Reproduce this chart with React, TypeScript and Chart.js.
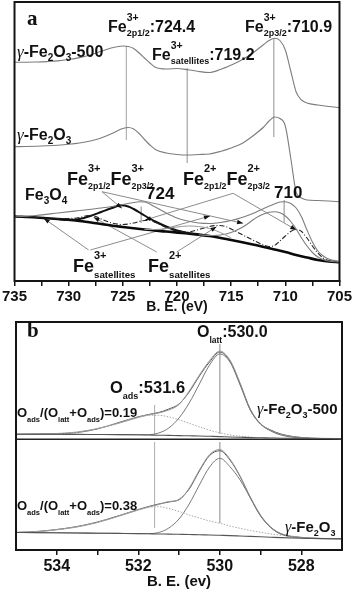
import React, { useEffect, useRef } from "react";
import { Chart, registerables } from "chart.js";
Chart.register(...registerables);

const SANS = '"Liberation Sans", Arial, sans-serif';
const SERIF = '"Liberation Serif", "Times New Roman", serif';

// ---------------- Panel a : Fe 2p ----------------
const A_TICK_LABELS = [735, 730, 725, 720, 715, 710, 705];
const A_TICKS_ALL = [735, 732.5, 730, 727.5, 725, 722.5, 720, 717.5, 715, 712.5, 710, 707.5, 705];

// gamma-Fe2O3-500 spectrum
const E_500 = [735, 734, 733, 732, 731, 730, 729, 728, 727, 726, 725, 724.5, 724, 723.5, 723, 722.5, 722, 721, 720, 719, 718, 717, 716, 715, 714, 713, 712, 711.5, 711, 710.5, 710, 709.5, 709, 708.5, 708, 707, 706, 705];
const I_500 = [237.7, 237.8, 238, 238.4, 239.1, 240.5, 242.4, 245, 248.7, 252.2, 254, 253.5, 251.5, 247, 242, 237, 232.7, 231, 231.5, 230.3, 228.5, 227.5, 230.5, 235, 240.2, 247, 255.5, 259.5, 261.7, 259.5, 250, 229, 208, 200, 197, 195, 193.5, 192.5];
// gamma-Fe2O3 spectrum
const E_FE2O3 = [735, 734, 733, 732, 731, 730, 729, 728, 727, 726, 725, 724.5, 724, 723.5, 723, 722.5, 722, 721, 720, 719, 718, 717, 716, 715, 714, 713, 712, 711.5, 711, 710.5, 710, 709.5, 709, 708.5, 708, 707, 706, 705];
const I_FE2O3 = [153.3, 153.5, 153.8, 154.2, 154.8, 155.7, 157, 159, 162, 166.5, 171.5, 172.5, 171, 166.5, 160.5, 155, 150.5, 147, 145.5, 145, 145.5, 146, 148.5, 152, 156.5, 164, 173, 179, 183, 181.5, 174, 142, 108, 102, 100, 99.5, 99, 98.3];
// Fe3O4 spectrum and fitted components
const E_FE3O4 = [735, 733, 731, 729, 727, 726, 725, 724, 723.5, 723, 722, 721, 720, 719, 718, 717, 716, 715, 714, 713, 712, 711, 710.5, 710, 709.5, 709, 708.5, 708, 707.5, 707, 706.5, 706, 705];
const I_FE3O4 = [83, 84.5, 87, 89.5, 92, 93.5, 95.5, 97.5, 98.3, 98, 93, 87, 82, 79, 77, 76.5, 77.5, 79.5, 82.5, 86.5, 91.5, 96, 98, 98.3, 96.5, 92, 83, 70, 58, 49, 44, 41, 38.5];
const E_BG_A = [735, 733, 731, 729, 727, 725, 723, 721, 719, 717, 715, 713, 711, 710, 709, 708, 707, 706, 705];
const I_BG_A = [83.5, 82.5, 81, 79, 76, 73, 70.5, 68.5, 66.5, 64, 60, 55.5, 50.5, 48, 45, 42.5, 40, 38.5, 37.7];
const E_FE3_P12 = [731, 730, 729, 728, 727, 726, 725.2, 724.5, 724, 723, 722, 721, 720, 719, 718];
const I_FE3_P12 = [81, 80, 81, 84, 88, 92, 94.7, 93.5, 91, 84.5, 78.5, 73.5, 69.5, 67, 65.2];
const E_FE3_P32 = [718, 717, 716, 715, 714, 713.5, 713, 712.5, 712, 711.5, 711, 710.5, 710, 709.5, 709, 708.5, 708, 707.5, 707, 706.5, 706, 705];
const I_FE3_P32 = [65.2, 64.5, 65, 67.5, 72.5, 76, 80, 83.5, 86, 87.7, 88.2, 87.2, 84, 78.5, 71, 62, 54, 47.5, 43, 40.5, 39, 38];
const E_FE3_SAT = [723, 722, 721, 720, 719, 718, 717, 716, 715];
const I_FE3_SAT = [70.5, 70.5, 71.5, 73, 74, 73.5, 71.5, 67.5, 62];
const E_FE2 = [735, 733, 731, 730, 729, 728.2, 727.5, 727, 726, 725, 724, 723, 722.5, 722, 721, 720, 719, 718, 717, 716.3, 715.5, 715, 714, 713, 712, 711.5, 711, 710.5, 710, 709.5, 709, 708.5, 708, 707.5, 707, 706.5, 706, 705];
const I_FE2 = [83.5, 82.5, 81.5, 81.5, 82.5, 84.5, 83.5, 81, 77, 75.5, 77, 79.5, 79.5, 77.5, 72.5, 69, 68, 70.5, 73.5, 74.5, 73.5, 71, 65.5, 60, 55, 53.5, 54.5, 59, 64, 68.5, 70.5, 68.5, 62, 54, 47, 42, 39.5, 38];
// reference (peak position) lines
const VL_A_E = [724.67, 719.05, 711.07, 723.3, 710.1];
const VL_A_TOP = [254, 232, 262, 93.3, 100];
const VL_A_BOT = [160, 137, 163, 77, 77];
// leader lines from labels to components
const LEAD_E1 = [726.93, 726.93, 714.82, 714.82, 728.16, 728.0, 721.87, 720.03];
const LEAD_I1 = [108.3, 108.3, 106.7, 106.7, 50, 50, 48, 48];
const LEAD_E2 = [725.09, 713.9, 722.95, 708.99, 732.3, 716.96, 727.7, 716.35];
const LEAD_I2 = [91.7, 76.7, 80, 70, 81.7, 84, 82.7, 73.3];

// ---------------- Panel b : O 1s ----------------
const B_TICK_LABELS = [534, 532, 530, 528];
const B_TICKS_ALL = [534, 533, 532, 531, 530, 529, 528];
const E_B = [535, 534.5, 534, 533.5, 533, 532.5, 532, 531.75, 531.5, 531.25, 531, 530.75, 530.5, 530.25, 530, 529.75, 529.5, 529.25, 529, 528.75, 528.5, 528, 527.5, 527];
const I_BG_TOP = [125.7, 125.7, 125.7, 125.6, 125.5, 125.4, 125.2, 125, 124.8, 124.6, 124.4, 124.2, 124, 123.7, 123.4, 123, 122.7, 122.4, 122.2, 122, 121.8, 121.6, 121.5, 121.4];
const I_FIT_TOP = [125.7, 125.8, 126.2, 127.5, 131.1, 137.2, 143.2, 145.5, 147.5, 151, 156, 168, 184, 198, 208, 199, 176, 150, 136, 130, 126, 122.5, 121.5, 121.4];
const I_RAW_TOP = [125.5, 126.2, 126.5, 128, 131.5, 136.5, 142.5, 145, 147, 150, 155.5, 169, 185, 199.5, 209, 200, 177, 151, 136.5, 129.5, 125.5, 122.5, 121.7, 121.4];
const I_LATT_TOP = [125.7, 125.7, 125.7, 125.6, 125.5, 125.4, 125.2, 125.3, 127, 132, 142, 157, 176, 195, 206, 198, 175, 150, 136, 129, 125, 122, 121.5, 121.4];
const I_ADS_TOP = [125.7, 125.8, 126.2, 127.5, 131.1, 137.2, 143.2, 144.7, 144.7, 143.1, 140.2, 136.7, 133.1, 129.8, 127.2, 125.1, 123.8, 122.9, 122.2, 122, 121.8, 121.6, 121.5, 121.4];
const I_BG_BOT = [27.5, 27.4, 27.2, 27, 26.8, 26.6, 26.4, 26.2, 26, 25.9, 25.7, 25.5, 25.2, 25, 24.7, 24.4, 24, 23.6, 23.2, 22.8, 22.4, 21.8, 21.4, 21.2];
const I_FIT_BOT = [27.5, 28.5, 30.5, 33.5, 38, 44, 50.5, 53.5, 56, 58, 60.5, 71, 89, 104.5, 109.3, 100, 83.3, 62.5, 44.5, 32.5, 26, 22.5, 21.5, 21.2];
const I_RAW_BOT = [27.7, 28.2, 30.2, 33, 37.5, 43.5, 50, 53, 55.5, 58.5, 60, 72, 90, 105.5, 110.5, 101, 84, 63, 45, 33, 26.5, 22.7, 21.6, 21.2];
const I_LATT_BOT = [27.5, 27.4, 27.2, 27, 26.8, 26.6, 26.4, 26.4, 27.5, 32, 41, 56, 75, 93, 101.7, 93.3, 80, 62, 44, 32.7, 26, 22.2, 21.4, 21.2];
const I_ADS_BOT = [27.6, 28.5, 30.5, 33.5, 38, 44, 50, 52.5, 53.3, 51.5, 48.5, 45, 42, 39, 36.7, 34, 31.7, 29.5, 27.7, 26, 24.7, 22.4, 21.5, 21.2];
const DIVIDER_B = 120.7;
const VL_B_E = [531.6, 530.0, 531.6, 530.0];
const VL_B_TOP = [155, 216, 118, 118];
const VL_B_BOT = [126, 126, 32, 37];

// ---------------- helpers ----------------
function series(xs: number[], ys: number[], style: any) {
  return {
    data: xs.map((x, i) => ({ x, y: ys[i] })),
    pointRadius: 0,
    borderWidth: 1,
    fill: false,
    cubicInterpolationMode: "monotone",
    borderColor: "#7a7a7a",
    ...style,
  };
}
function segment(x1: number, y1: number, x2: number, y2: number, style: any) {
  return {
    data: [{ x: x1, y: y1 }, { x: x2, y: y2 }],
    pointRadius: 0,
    borderWidth: 1,
    fill: false,
    tension: 0,
    ...style,
  };
}

type Seg = { t?: string; sup?: string; sub?: string; font?: string };
type Rich = { x: number; y: number; size: number; supSize: number; subSize: number; supDy: number; subDy: number; segs: Seg[] };

function drawRich(ctx: CanvasRenderingContext2D, L: Rich) {
  let x = L.x;
  ctx.textBaseline = "alphabetic";
  ctx.textAlign = "left";
  ctx.fillStyle = "#111";
  for (const s of L.segs) {
    if (s.t) {
      ctx.font = s.font || `bold ${L.size}px ${SANS}`;
      ctx.fillText(s.t, x, L.y);
      x += ctx.measureText(s.t).width;
    }
    if (s.sup || s.sub) {
      let w = 0;
      if (s.sup) {
        ctx.font = `bold ${L.supSize}px ${SANS}`;
        ctx.fillText(s.sup, x, L.y - L.supDy);
        w = Math.max(w, ctx.measureText(s.sup).width);
      }
      if (s.sub) {
        ctx.font = `bold ${L.subSize}px ${SANS}`;
        ctx.fillText(s.sub, x, L.y + L.subDy);
        w = Math.max(w, ctx.measureText(s.sub).width);
      }
      x += w;
    }
  }
}

const framePlugin = {
  id: "frame",
  afterDatasetsDraw(chart: any) {
    const { ctx, chartArea } = chart;
    ctx.save();
    ctx.strokeStyle = "#151515";
    ctx.lineWidth = 2;
    ctx.strokeRect(chartArea.left, chartArea.top, chartArea.right - chartArea.left, chartArea.bottom - chartArea.top);
    ctx.restore();
  },
};

function labelsPlugin(labels: Rich[]) {
  return {
    id: "richLabels",
    afterDraw(chart: any) {
      const ctx = chart.ctx;
      ctx.save();
      labels.forEach((L) => drawRich(ctx, L));
      ctx.restore();
    },
  };
}

const arrowPlugin = {
  id: "arrows",
  afterDatasetsDraw(chart: any) {
    if (!chart.options.plugins.arrows) return;
    const { ctx, scales } = chart;
    ctx.save();
    ctx.fillStyle = "#111";
    for (let i = 0; i < LEAD_E1.length; i++) {
      const x1 = scales.x.getPixelForValue(LEAD_E1[i]);
      const y1 = scales.y.getPixelForValue(LEAD_I1[i]);
      const x2 = scales.x.getPixelForValue(LEAD_E2[i]);
      const y2 = scales.y.getPixelForValue(LEAD_I2[i]);
      const a = Math.atan2(y2 - y1, x2 - x1);
      const len = 6;
      const hw = 2.2;
      ctx.beginPath();
      ctx.moveTo(x2, y2);
      ctx.lineTo(x2 - len * Math.cos(a) + hw * Math.sin(a), y2 - len * Math.sin(a) - hw * Math.cos(a));
      ctx.lineTo(x2 - len * Math.cos(a) - hw * Math.sin(a), y2 - len * Math.sin(a) + hw * Math.cos(a));
      ctx.closePath();
      ctx.fill();
    }
    ctx.restore();
  },
};

const gam = (size: number) => ({ t: "\u03B3", font: `italic ${size}px ${SERIF}` });

const LABELS_A: Rich[] = [
  { x: 27, y: 25, size: 21, supSize: 10, subSize: 9, supDy: 11, subDy: 4, segs: [{ t: "a", font: `bold 21px ${SERIF}` }] },
  { x: 108, y: 32, size: 16, supSize: 10.5, subSize: 9, supDy: 11, subDy: 4, segs: [{ t: "Fe" }, { sup: "3+", sub: "2p1/2" }, { t: ":724.4" }] },
  { x: 245, y: 32, size: 16, supSize: 10.5, subSize: 9, supDy: 11, subDy: 4, segs: [{ t: "Fe" }, { sup: "3+", sub: "2p3/2" }, { t: ":710.9" }] },
  { x: 152, y: 60, size: 16, supSize: 10.5, subSize: 9, supDy: 11, subDy: 4, segs: [{ t: "Fe" }, { sup: "3+", sub: "satellites" }, { t: ":719.2" }] },
  { x: 17, y: 57, size: 16, supSize: 10, subSize: 10, supDy: 11, subDy: 4, segs: [gam(17), { t: "-Fe" }, { sub: "2" }, { t: "O" }, { sub: "3" }, { t: "-500" }] },
  { x: 17, y: 140, size: 16, supSize: 10, subSize: 10, supDy: 11, subDy: 4, segs: [gam(17), { t: "-Fe" }, { sub: "2" }, { t: "O" }, { sub: "3" }] },
  { x: 67, y: 185, size: 18, supSize: 11, subSize: 8.8, supDy: 13, subDy: 4, segs: [{ t: "Fe" }, { sup: "3+", sub: "2p1/2" }, { t: "Fe" }, { sup: "3+", sub: "2p3/2" }] },
  { x: 146, y: 199, size: 17, supSize: 10, subSize: 9, supDy: 11, subDy: 4, segs: [{ t: "724" }] },
  { x: 183, y: 185, size: 18, supSize: 11, subSize: 8.8, supDy: 13, subDy: 4, segs: [{ t: "Fe" }, { sup: "2+", sub: "2p1/2" }, { t: "Fe" }, { sup: "2+", sub: "2p3/2" }] },
  { x: 274, y: 198, size: 17, supSize: 10, subSize: 9, supDy: 11, subDy: 4, segs: [{ t: "710" }] },
  { x: 25, y: 200, size: 16, supSize: 10, subSize: 10, supDy: 11, subDy: 4, segs: [{ t: "Fe" }, { sub: "3" }, { t: "O" }, { sub: "4" }] },
  { x: 73, y: 272, size: 18, supSize: 11, subSize: 9.7, supDy: 13, subDy: 6, segs: [{ t: "Fe" }, { sup: "3+", sub: "satellites" }] },
  { x: 148, y: 272, size: 18, supSize: 11, subSize: 9.7, supDy: 13, subDy: 6, segs: [{ t: "Fe" }, { sup: "2+", sub: "satellites" }] },
];

const LABELS_B: Rich[] = [
  { x: 27, y: 21, size: 21, supSize: 10, subSize: 9, supDy: 11, subDy: 4, segs: [{ t: "b", font: `bold 21px ${SERIF}` }] },
  { x: 197, y: 21, size: 16, supSize: 10, subSize: 8.5, supDy: 11, subDy: 6, segs: [{ t: "O" }, { sub: "latt" }, { t: ":530.0" }] },
  { x: 110, y: 77, size: 16.5, supSize: 10, subSize: 9, supDy: 11, subDy: 6, segs: [{ t: "O" }, { sub: "ads" }, { t: ":531.6" }] },
  { x: 17, y: 101, size: 13, supSize: 8, subSize: 7.5, supDy: 8, subDy: 5, segs: [{ t: "O" }, { sub: "ads" }, { t: "/(O" }, { sub: "latt" }, { t: "+O" }, { sub: "ads" }, { t: ")=0.19" }] },
  { x: 257, y: 98, size: 15, supSize: 9, subSize: 9, supDy: 10, subDy: 4, segs: [gam(16), { t: "-Fe" }, { sub: "2" }, { t: "O" }, { sub: "3" }, { t: "-500" }] },
  { x: 17, y: 194, size: 13, supSize: 8, subSize: 7.5, supDy: 8, subDy: 5, segs: [{ t: "O" }, { sub: "ads" }, { t: "/(O" }, { sub: "latt" }, { t: "+O" }, { sub: "ads" }, { t: ")=0.38" }] },
  { x: 285, y: 216, size: 15, supSize: 9, subSize: 9, supDy: 10, subDy: 4, segs: [gam(16), { t: "-Fe" }, { sub: "2" }, { t: "O" }, { sub: "3" }] },
];

function xScale(min: number, max: number, all: number[], labels: number[], height: number, fontSize: number, title: string, pad: number) {
  return {
    type: "linear",
    min,
    max,
    reverse: true,
    afterBuildTicks: (scale: any) => {
      scale.ticks = all.map((v) => ({ value: v }));
    },
    afterFit: (scale: any) => {
      scale.height = height;
    },
    ticks: {
      autoSkip: false,
      maxRotation: 0,
      padding: pad,
      color: "#111",
      font: { family: SANS, size: fontSize, weight: "bold" },
      callback: (v: any) => (labels.includes(Number(v)) ? String(v) : ""),
    },
    grid: { display: true, drawOnChartArea: false, drawTicks: true, tickLength: 5, color: "#151515", lineWidth: 1.5 },
    border: { display: true, color: "#151515", width: 2 },
    title: { display: true, text: title, color: "#111", font: { family: SANS, size: fontSize - 1, weight: "bold" }, padding: { top: 0, bottom: 0 } },
  };
}

export default function App() {
  const refA = useRef<HTMLCanvasElement>(null);
  const refB = useRef<HTMLCanvasElement>(null);

  useEffect(() => {
    const gray = "#7d7d7d";
    const datasetsA: any[] = [
      series(E_500, I_500, { borderColor: gray, borderWidth: 1.1 }),
      series(E_FE2O3, I_FE2O3, { borderColor: gray, borderWidth: 1.1 }),
      series(E_FE3O4, I_FE3O4, { borderColor: gray, borderWidth: 1.1 }),
      series(E_FE3_SAT, I_FE3_SAT, { borderColor: "#999", borderWidth: 1 }),
      series(E_FE3_P32, I_FE3_P32, { borderColor: gray, borderWidth: 1.1 }),
      series(E_FE2, I_FE2, { borderColor: "#222", borderWidth: 1.1, borderDash: [5, 2, 1, 2] }),
      series(E_FE3_P12, I_FE3_P12, { borderColor: "#111", borderWidth: 2 }),
      series(E_BG_A, I_BG_A, { borderColor: "#0a0a0a", borderWidth: 2.6 }),
    ];
    VL_A_E.forEach((e, i) => datasetsA.push(segment(e, VL_A_TOP[i], e, VL_A_BOT[i], { borderColor: "#b5b5b5" })));
    LEAD_E1.forEach((e, i) => datasetsA.push(segment(e, LEAD_I1[i], LEAD_E2[i], LEAD_I2[i], { borderColor: "#8c8c8c" })));

    const chartA = new Chart(refA.current as HTMLCanvasElement, {
      type: "line",
      data: { datasets: datasetsA },
      options: {
        animation: false,
        responsive: false,
        devicePixelRatio: 1,
        events: [],
        layout: { padding: { left: 14, right: 14, top: 2, bottom: 0 } },
        plugins: { legend: { display: false }, tooltip: { enabled: false }, arrows: true } as any,
        scales: {
          x: xScale(705, 735, A_TICKS_ALL, A_TICK_LABELS, 35, 15, "B. E. (eV)", 2) as any,
          y: { type: "linear", display: false, min: 19, max: 298 },
        },
      },
      plugins: [framePlugin, arrowPlugin, labelsPlugin(LABELS_A)],
    });

    const datasetsB: any[] = [
      series(E_B, I_BG_TOP, { borderColor: "#555", borderWidth: 1.1 }),
      series(E_B, I_ADS_TOP, { borderColor: "#a8a8a8", borderWidth: 1, borderDash: [1.5, 1.5] }),
      series(E_B, I_LATT_TOP, { borderColor: "#777", borderWidth: 1 }),
      series(E_B, I_RAW_TOP, { borderColor: "#9a9a9a", borderWidth: 1 }),
      series(E_B, I_FIT_TOP, { borderColor: "#555", borderWidth: 1 }),
      series(E_B, I_BG_BOT, { borderColor: "#555", borderWidth: 1.1 }),
      series(E_B, I_ADS_BOT, { borderColor: "#a8a8a8", borderWidth: 1, borderDash: [1.5, 1.5] }),
      series(E_B, I_LATT_BOT, { borderColor: "#777", borderWidth: 1 }),
      series(E_B, I_RAW_BOT, { borderColor: "#9a9a9a", borderWidth: 1 }),
      series(E_B, I_FIT_BOT, { borderColor: "#555", borderWidth: 1 }),
      segment(535, DIVIDER_B, 527, DIVIDER_B, { borderColor: "#222", borderWidth: 1.5 }),
    ];
    VL_B_E.forEach((e, i) => datasetsB.push(segment(e, VL_B_TOP[i], e, VL_B_BOT[i], { borderColor: "#b5b5b5" })));

    const chartB = new Chart(refB.current as HTMLCanvasElement, {
      type: "line",
      data: { datasets: datasetsB },
      options: {
        animation: false,
        responsive: false,
        devicePixelRatio: 1,
        events: [],
        layout: { padding: { left: 16, right: 12, top: 6, bottom: 0 } },
        plugins: { legend: { display: false }, tooltip: { enabled: false } } as any,
        scales: {
          x: xScale(527, 535, B_TICKS_ALL, B_TICK_LABELS, 41, 16, "B. E. (ev)", 1.5) as any,
          y: { type: "linear", display: false, min: 10, max: 238 },
        },
      },
      plugins: [framePlugin, labelsPlugin(LABELS_B)],
    });

    return () => {
      chartA.destroy();
      chartB.destroy();
    };
  }, []);

  return (
    <div style={{ position: "absolute", left: 0, top: 0, width: 354, height: 591, background: "#fff" }}>
      <canvas ref={refA} width={354} height={316} style={{ position: "absolute", left: 0, top: 0, width: 354, height: 316 }} />
      <canvas ref={refB} width={354} height={275} style={{ position: "absolute", left: 0, top: 316, width: 354, height: 275 }} />
    </div>
  );
}
